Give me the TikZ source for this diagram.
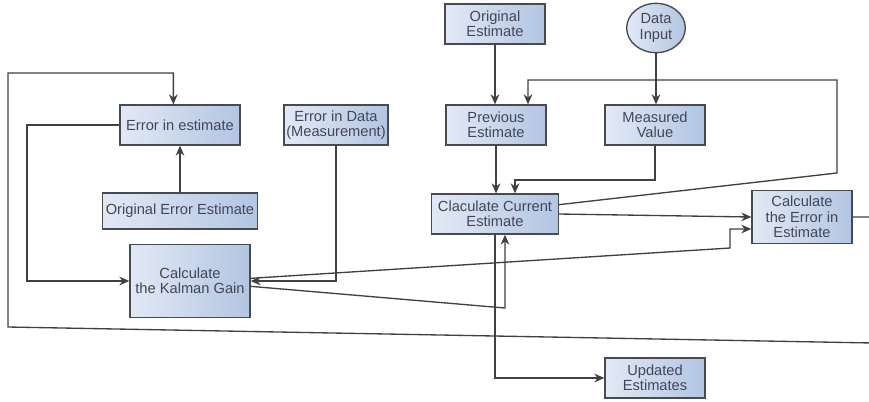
\documentclass[tikz,border=0pt]{standalone}
\usepackage{fontspec}
\setmainfont{Liberation Sans}
\usepackage{xcolor}
\usepackage{tikz}
\usetikzlibrary{arrows.meta,shapes.geometric}
\definecolor{boxlight}{RGB}{226,233,245}
\definecolor{boxdark}{RGB}{178,197,226}
\definecolor{boxline}{RGB}{72,74,82}
\definecolor{labelgray}{RGB}{68,70,88}

\begin{document}
\begin{tikzpicture}[
  x=0.75pt,y=-0.75pt,
  box/.style={draw=boxline,line width=1pt,left color=boxlight,right color=boxdark,align=center,inner sep=1pt,
    text=labelgray,font=\fontsize{11}{11.5}\selectfont,minimum width=75pt,minimum height=30pt},
  oval/.style={box,ellipse,minimum width=44pt,minimum height=37pt},
  arrow/.style={-{Stealth[length=7.5pt,width=6.5pt]},line width=1pt,draw=black!75}
]
\useasboundingbox (0,0) rectangle (869,401);
\node[box] (origest) at (495,24) {Original\\Estimate};
\node[oval] (datain) at (656,28) {Data\\Input};
\node[box,minimum width=90pt] (errest) at (180,125) {Error in estimate};
\node[box,minimum width=78pt] (errdata) at (336,125) {Error in Data\\(Measurement)};
\node[box] (prevest) at (496,125) {Previous\\Estimate};
\node[box] (measval) at (655,125) {Measured\\Value};
\node[box,minimum width=116pt,minimum height=27pt] (origerr) at (180,211) {Original Error Estimate};
\node[box,minimum width=95pt] (curest) at (495,214) {Claculate Current\\Estimate};
\node[box,minimum height=40pt] (calcerr) at (802,217) {Calculate\\the Error in\\Estimate};
\node[box,minimum width=90pt,minimum height=55pt] (kalman) at (190,281) {Calculate\\the Kalman Gain};
\node[box] (updest) at (655,378) {Updated\\Estimates};

\coordinate (mvbend) at (515,180);
\coordinate (fbturn) at (837,173);
\coordinate (fbtop) at (528,80);
\coordinate (kgturn) at (730,248);
\coordinate (kgbend) at (505,308);
\coordinate (eeleft) at (27,125);
\coordinate (loopse) at (873,343);
\coordinate (loopsw) at (8,327);
\coordinate (loopnw) at (8,73);

\draw[arrow] (origest) -- (origest.south |- prevest.north);
\draw[arrow] (datain) -- (datain.south |- measval.north);
\draw[arrow] (origerr) -- (origerr.north |- errest.south);
\draw[arrow] (prevest) -- (prevest.south |- curest.north);
\draw[arrow] (measval.south) |- (mvbend) -- (mvbend |- curest.north);
\draw[arrow] ([yshift=7pt]curest.east) -- (fbturn) |- (fbtop) -- (fbtop |- prevest.north);
\draw[arrow] (curest.east) -- (calcerr.west);
\draw[arrow] ([yshift=2pt]kalman.east) -- (kgturn) |- ([yshift=-9pt]calcerr.west);
\draw[arrow] ([yshift=-4pt]kalman.east) -- (kgbend) -- (kgbend |- curest.south);
\draw[arrow] (errdata.south) |- (kalman.east);
\draw[arrow] (errest.west) -- (eeleft) |- (kalman.west);
\draw[arrow] (curest.south) |- (updest.west);
\draw[arrow] (calcerr.east) -| (loopse) -- (loopsw) -- (loopnw) -| ([xshift=-5pt]errest.north);
\end{tikzpicture}
\end{document}
